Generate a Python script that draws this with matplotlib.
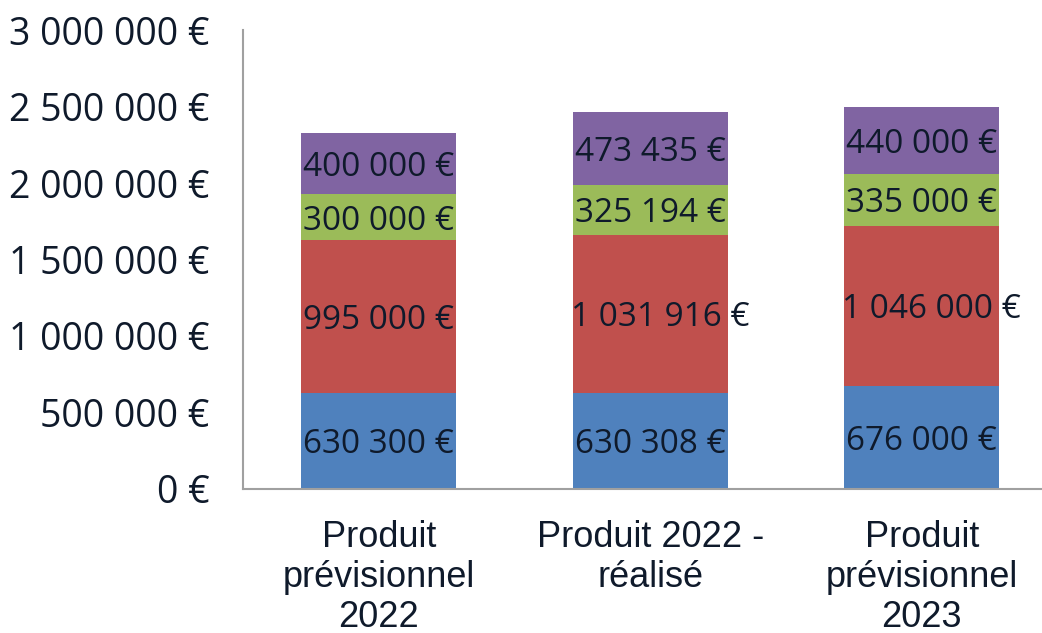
import numpy as np
import matplotlib.pyplot as plt
from matplotlib.ticker import FuncFormatter

categories = ["Produit\nprévisionnel\n2022", "Produit 2022 -\nréalisé", "Produit\nprévisionnel\n2023"]
serie_bleu = [630300, 630308, 676000]
serie_rouge = [995000, 1031916, 1046000]
serie_vert = [300000, 325194, 335000]
serie_violet = [400000, 473435, 440000]

series = [serie_bleu, serie_rouge, serie_vert, serie_violet]
couleurs = ["#4F81BD", "#C0504D", "#9BBB59", "#8064A2"]
txt = "#0f1a2b"


def euro(v, pos=None):
    return "{:,.0f} €".format(v).replace(",", " ")


fig = plt.figure(figsize=(10.42, 6.33), dpi=100)
ax = fig.add_axes([0.2332, 0.2275, 0.7817, 0.7251])

x = np.arange(len(categories))
bas = np.zeros(len(categories))
for vals, c in zip(series, couleurs):
    ax.bar(x, vals, 0.57, bottom=bas, color=c, linewidth=0)
    for xi, b, v in zip(x, bas, vals):
        dx = 10 if v >= 1e6 else 0
        ax.annotate(euro(v), (xi, b + v / 2), xytext=(dx, 0), textcoords="offset pixels",
                    ha="center", va="center_baseline", fontsize=24, family="Open Sans", color=txt)
    bas = bas + np.array(vals)

ax.set_xlim(-0.5, 2.5)
ax.set_ylim(0, 3000000)
ax.set_yticks(np.arange(0, 3000001, 500000))
ax.yaxis.set_major_formatter(FuncFormatter(euro))
ax.set_xticks(x)
ax.set_xticklabels(categories, family="Liberation Sans", fontsize=26, color=txt, linespacing=1.2)
for lab in ax.get_yticklabels():
    lab.set_family("Open Sans")
    lab.set_fontsize(27)
    lab.set_color(txt)
ax.tick_params(axis="y", length=0, pad=24)
ax.tick_params(axis="x", length=0, pad=22)

for s in ["top", "right"]:
    ax.spines[s].set_visible(False)
for s in ["left", "bottom"]:
    ax.spines[s].set_color("#a0a0a0")
    ax.spines[s].set_linewidth(1.5)

fig.savefig("out.png", dpi=100)
